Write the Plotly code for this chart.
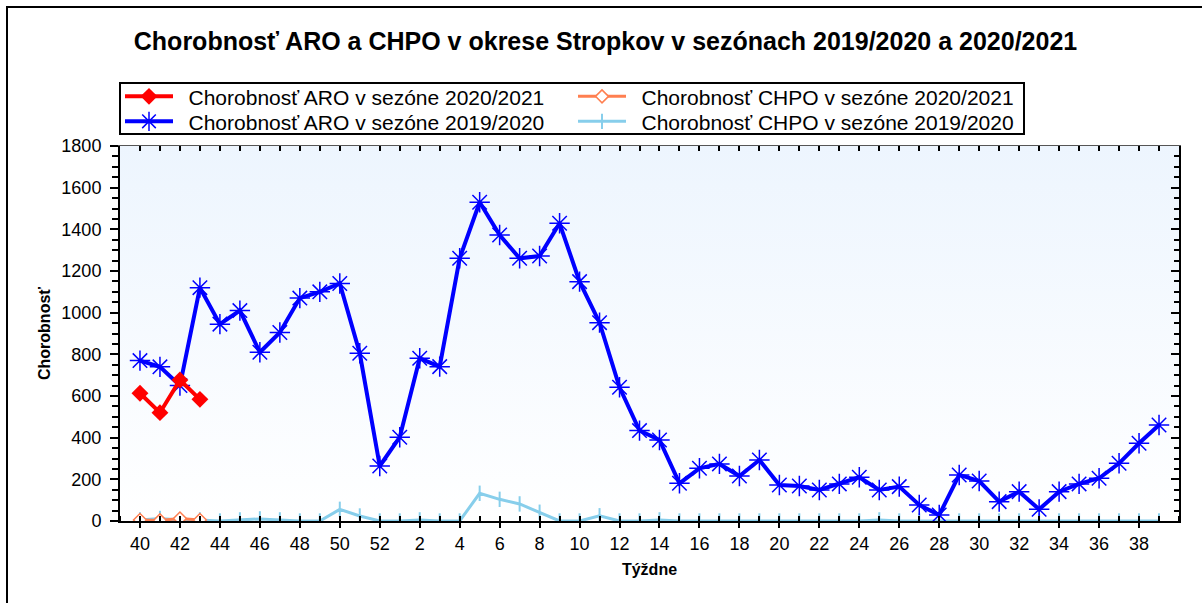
import plotly.graph_objects as go

# ---------------- data ----------------
weeks = [40, 41, 42, 43, 44, 45, 46, 47, 48, 49, 50, 51, 52,
         1, 2, 3, 4, 5, 6, 7, 8, 9, 10, 11, 12, 13, 14, 15, 16, 17, 18, 19, 20,
         21, 22, 23, 24, 25, 26, 27, 28, 29, 30, 31, 32, 33, 34, 35, 36, 37, 38, 39]

aro_1920 = [770, 740, 650, 1120, 945, 1010, 810, 905, 1070, 1100, 1140, 805, 264,
            402, 781, 741, 1261, 1530, 1373, 1261, 1272, 1429, 1149, 952, 642, 434,
            389, 181, 253, 274, 216, 293, 173, 168, 149, 178, 210, 149, 165, 77,
            29, 221, 192, 93, 141, 56, 141, 178, 205, 277, 373, 461]

chpo_1920 = [5, 12, 5, 5, 0, 5, 10, 5, 0, 0, 56, 24, 0,
             0, 5, 0, 0, 133, 104, 82, 42, 0, 0, 25, 0, 0,
             5, 0, 0, 0, 0, 0, 0, 0, 0, 0, 0, 5, 0, 0,
             0, 0, 0, 0, 0, 0, 0, 0, 0, 0, 0, 0]

aro_2021 = [613, 520, 677, 584]
chpo_2021 = [5, 3, 12, 5]

tick_weeks = [40, 42, 44, 46, 48, 50, 52, 2, 4, 6, 8, 10, 12, 14, 16, 18, 20,
              22, 24, 26, 28, 30, 32, 34, 36, 38]

names = ["Chorobnosť ARO v sezóne 2020/2021",
         "Chorobnosť CHPO v sezóne 2020/2021",
         "Chorobnosť ARO v sezóne 2019/2020",
         "Chorobnosť CHPO v sezóne 2019/2020"]

title_text = "Chorobnosť ARO a CHPO v okrese Stropkov v sezónach 2019/2020 a 2020/2021"

# ---------------- figure ----------------
W, H = 1202, 603
ML, MR, MT, MB = 120, 23, 146, 82
PW, PH = W - ML - MR, H - MT - MB

def px_x(px):
    return (px - ML) / PW

def px_y(py):
    return (H - MB - py) / PH

idx = list(range(len(weeks)))
idx_new = idx[:len(aro_2021)]
tick_idx = [weeks.index(w) for w in tick_weeks]

XR = [-1, len(weeks)]
YR = [0, 1800]

FONT = "Liberation Sans, Arial, sans-serif"
PFX = "\u2002"

fig = go.Figure()

# plot-area background gradient
fig.add_trace(go.Scatter(
    x=[XR[0], XR[1], XR[1], XR[0], XR[0]],
    y=[YR[0], YR[0], YR[1], YR[1], YR[0]],
    mode="lines", line=dict(width=0), fill="toself",
    fillgradient=dict(type="vertical",
                      colorscale=[[0, "#ffffff"], [1, "#edf5fe"]]),
    hoverinfo="skip", showlegend=False))

fig.add_trace(go.Scatter(
    x=idx, y=chpo_1920, name=PFX + names[3], mode="lines+markers",
    line=dict(color="#87ceeb", width=3),
    marker=dict(symbol="line-ns-open", size=11,
                line=dict(color="#87ceeb", width=2)),
    legend="legend2", legendrank=2))

fig.add_trace(go.Scatter(
    x=idx, y=aro_1920, name=PFX + names[2], mode="lines+markers",
    line=dict(color="#0000ff", width=4),
    marker=dict(symbol="asterisk-open", size=17,
                line=dict(color="#0000ff", width=1.5)),
    legend="legend2", legendrank=1))

fig.add_trace(go.Scatter(
    x=idx_new, y=chpo_2021, name=PFX + names[1], mode="lines+markers",
    line=dict(color="#ff7f50", width=3),
    marker=dict(symbol="diamond", size=10, color="white",
                line=dict(color="#ff7f50", width=1.5)),
    legend="legend", legendrank=2))

fig.add_trace(go.Scatter(
    x=idx_new, y=aro_2021, name=PFX + names[0], mode="lines+markers",
    line=dict(color="#ff0000", width=4),
    marker=dict(symbol="diamond", size=13, color="#ff0000"),
    legend="legend", legendrank=1))

legend_common = dict(orientation="h", x=0, xanchor="left", yanchor="middle",
                     borderwidth=0, bgcolor="rgba(0,0,0,0)",
                     font=dict(family=FONT, size=21, color="black"),
                     itemwidth=48, entrywidth=390, entrywidthmode="pixels",
                     traceorder="normal", itemclick=False)

fig.update_layout(
    width=W, height=H,
    margin=dict(l=ML, r=MR, t=MT, b=MB, pad=0),
    paper_bgcolor="white", plot_bgcolor="white",
    font=dict(family=FONT, color="black", size=18),
    title=dict(text="<b>" + title_text + "</b>", xref="container",
               x=605.5 / W, xanchor="center", y=1 - 41 / H, yanchor="middle",
               font=dict(family=FONT, size=25, color="black")),
    showlegend=True,
    legend=dict(y=px_y(96.7), **legend_common),
    legend2=dict(y=px_y(121.7), **legend_common),
    xaxis=dict(range=XR, tickmode="array", tickvals=tick_idx,
               ticktext=[str(w) for w in tick_weeks],
               showgrid=False, zeroline=False, showline=True,
               linecolor="black", linewidth=2,
               ticks="outside", ticklen=5, tickwidth=2, tickcolor="black",
               minor=dict(tickmode="linear", tick0=0, dtick=1, ticks="inside",
                          ticklen=5, tickwidth=1.5, tickcolor="black"),
               tickfont=dict(family=FONT, size=18, color="black"),
               title=dict(text="<b>Týždne</b>", standoff=11,
                          font=dict(family=FONT, size=16, color="black"))),
    yaxis=dict(range=YR, tickmode="linear", tick0=0, dtick=200,
               showgrid=False, zeroline=False, showline=True,
               linecolor="black", linewidth=2,
               ticks="outside", ticklen=8, tickwidth=2, tickcolor="black",
               ticklabelstandoff=5,
               minor=dict(tickmode="linear", tick0=0, dtick=50, ticks="outside",
                          ticklen=6, tickwidth=1.5, tickcolor="black"),
               tickfont=dict(family=FONT, size=18, color="black"),
               title=dict(text="<b>Chorobnosť</b>", standoff=7,
                          font=dict(family=FONT, size=16, color="black"))),
    xaxis2=dict(range=XR, overlaying="x", side="top", anchor="y",
                tickmode="linear", tick0=0, dtick=1, ticks="inside",
                ticklen=5, tickwidth=1.5, tickcolor="black",
                showticklabels=False, showgrid=False, zeroline=False,
                showline=True, linecolor="#555555", linewidth=1),
    yaxis2=dict(range=YR, overlaying="y", side="right", anchor="x",
                tickmode="linear", tick0=0, dtick=200, ticks="inside",
                ticklen=8, tickwidth=2, tickcolor="black",
                minor=dict(tickmode="linear", tick0=0, dtick=50, ticks="inside",
                           ticklen=5, tickwidth=1.5, tickcolor="black"),
                showticklabels=False, showgrid=False, zeroline=False,
                showline=True, linecolor="black", linewidth=2),
    hovermode=False,
)

# invisible helper trace so the mirrored tick axes are rendered
fig.add_trace(go.Scatter(x=[XR[0]], y=[YR[0]], xaxis="x2", yaxis="y2",
                         mode="markers", marker=dict(opacity=0),
                         showlegend=False, hoverinfo="skip"))

# legend frame
fig.add_shape(type="rect", xref="paper", yref="paper",
              x0=px_x(120), x1=px_x(1024), y0=px_y(134), y1=px_y(83),
              line=dict(color="black", width=2), fillcolor="white",
              layer="above")

# outer frame
fig.add_shape(type="rect", xref="paper", yref="paper",
              x0=px_x(7), x1=px_x(W + 40), y0=px_y(H + 40), y1=px_y(7),
              line=dict(color="black", width=2), fillcolor="rgba(0,0,0,0)",
              layer="above")

fig.write_html("out.html", config={"displayModeBar": False},
               post_script="document.body.style.margin='0';")
